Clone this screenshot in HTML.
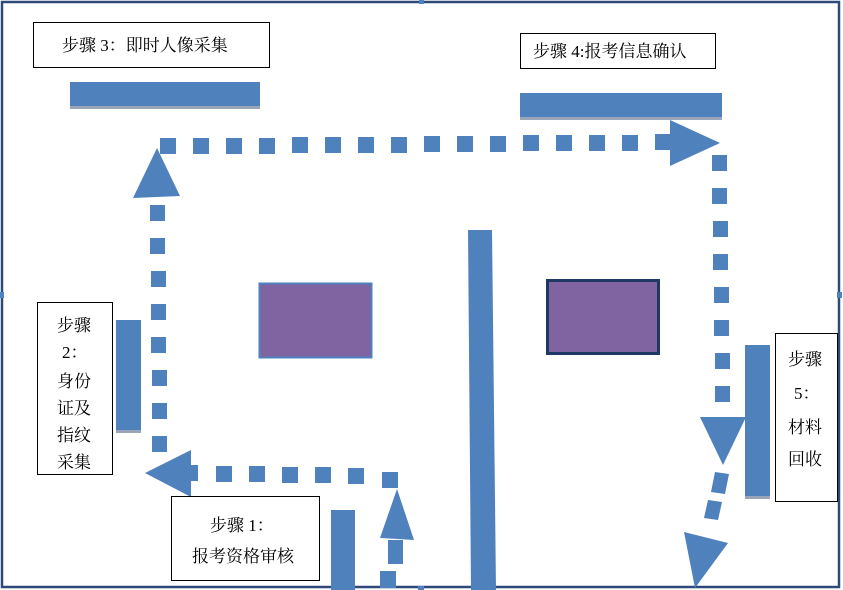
<!DOCTYPE html>
<html><head><meta charset="utf-8"><style>
html,body{margin:0;padding:0;background:#fff;}
svg{display:block;}
text{font-family:"Liberation Serif","Noto Serif CJK SC","Noto Sans CJK SC",serif;font-size:17px;fill:#000;}
</style></head><body>
<svg width="843" height="590" viewBox="0 0 843 590" xmlns="http://www.w3.org/2000/svg">
<rect x="0" y="0" width="843" height="590" fill="#fff"/>
<rect x="2" y="2" width="837" height="585" fill="none" stroke="#2f4a7a" stroke-width="2.5"/>
<rect x="419" y="0" width="5" height="4" fill="#4f81bd"/>
<rect x="0" y="292" width="4" height="6" fill="#4f81bd"/>
<rect x="837" y="292" width="5" height="6" fill="#4f81bd"/>
<rect x="418" y="586" width="6" height="4" fill="#4f81bd"/>

<!-- step 3 -->
<rect x="33.5" y="22.5" width="236" height="45" fill="#fff" stroke="#000"/>
<text x="62" y="51">步骤 3：即时人像采集</text>
<rect x="70" y="82" width="190" height="24" fill="#4f81bd"/>
<rect x="70" y="106" width="190" height="3" fill="#9aa6b8"/>
<!-- step 4 -->
<rect x="520.5" y="33.5" width="195" height="35" fill="#fff" stroke="#000"/>
<text x="533" y="57">步骤 4:报考信息确认</text>
<rect x="520" y="93" width="202" height="24" fill="#4f81bd"/>
<rect x="520" y="117" width="202" height="3" fill="#9aa6b8"/>

<g fill="#4f81bd">
<!-- top dashes -->
<rect x="160" y="138" width="16" height="16"/>
<rect x="193" y="138" width="16" height="16"/>
<rect x="226" y="138" width="16" height="16"/>
<rect x="259" y="138" width="16" height="16"/>
<rect x="292" y="137" width="16" height="16"/>
<rect x="325" y="137" width="16" height="16"/>
<rect x="358" y="137" width="16" height="16"/>
<rect x="391" y="137" width="16" height="16"/>
<rect x="424" y="136" width="16" height="16"/>
<rect x="457" y="136" width="16" height="16"/>
<rect x="490" y="136" width="16" height="16"/>
<rect x="523" y="135" width="16" height="16"/>
<rect x="556" y="135" width="16" height="16"/>
<rect x="589" y="135" width="16" height="16"/>
<rect x="622" y="135" width="16" height="16"/>
<rect x="655" y="134" width="16" height="16"/>
<polygon points="670,120 720,143 670,166"/>
<!-- left up arrow -->
<polygon points="157,148 180,196 133,198"/>
<rect x="150" y="205" width="15" height="16"/>
<rect x="150" y="238" width="15" height="16"/>
<rect x="151" y="271" width="15" height="16"/>
<rect x="151" y="304" width="15" height="16"/>
<rect x="151" y="337" width="15" height="16"/>
<rect x="152" y="370" width="15" height="16"/>
<rect x="152" y="403" width="15" height="16"/>
<rect x="152" y="436" width="15" height="16"/>
<!-- bottom left arrow -->
<polygon points="145,473 191,450 191,497"/>
<rect x="190" y="465" width="8" height="16"/>
<rect x="216" y="466" width="16" height="16"/>
<rect x="249" y="466" width="16" height="16"/>
<rect x="282" y="467" width="16" height="16"/>
<rect x="315" y="467" width="16" height="16"/>
<rect x="348" y="468" width="16" height="16"/>
<rect x="382" y="472" width="16" height="16"/>
<!-- up arrow bottom -->
<polygon points="397,489 414,540 380,538"/>
<rect x="388" y="540" width="15" height="24"/>
<rect x="380" y="571" width="16" height="17"/>
<!-- right vertical dashes -->
<rect x="712" y="155" width="15" height="16"/>
<rect x="712" y="188" width="15" height="16"/>
<rect x="713" y="221" width="15" height="16"/>
<rect x="713" y="254" width="15" height="16"/>
<rect x="714" y="287" width="15" height="16"/>
<rect x="714" y="320" width="15" height="16"/>
<rect x="715" y="353" width="15" height="16"/>
<rect x="715" y="386" width="15" height="16"/>
<polygon points="700,417 746,417 723,465"/>
<polygon points="715,472 729,474 725,494 711,492"/>
<polygon points="708,500 722,502 718,520 704,518"/>
<polygon points="684,532 728,543 695,588"/>
</g>

<!-- step 2 -->
<rect x="37.5" y="302.5" width="75" height="172" fill="#fff" stroke="#000"/>
<text x="57" y="331">步骤</text>
<text x="62" y="358">2：</text>
<text x="57" y="387">身份</text>
<text x="57" y="414">证及</text>
<text x="57" y="441">指纹</text>
<text x="57" y="468">采集</text>
<rect x="116" y="320" width="25" height="110" fill="#4f81bd"/>
<rect x="116" y="430" width="25" height="3" fill="#9aa6b8"/>

<!-- step 1 -->
<rect x="171.5" y="496.5" width="148" height="84" fill="#fff" stroke="#000"/>
<text x="210" y="531">步骤 1：</text>
<text x="192" y="562">报考资格审核</text>
<rect x="331" y="510" width="24" height="80" fill="#4f81bd"/>

<!-- central bar -->
<polygon points="468,230 492,230 496,590 471,590" fill="#4f81bd"/>
<!-- purple boxes -->
<rect x="259.5" y="283.5" width="112" height="74" fill="#8064a2" stroke="#4f81bd" stroke-width="2"/>
<rect x="547.5" y="280.5" width="111" height="73" fill="#8064a2" stroke="#1f3864" stroke-width="3"/>

<!-- step 5 -->
<rect x="775.5" y="333.5" width="62" height="168" fill="#fff" stroke="#000"/>
<text x="788" y="365">步骤</text>
<text x="794" y="399">5：</text>
<text x="788" y="433">材料</text>
<text x="788" y="465">回收</text>
<rect x="745" y="345" width="25" height="151" fill="#4f81bd"/>
<rect x="745" y="496" width="25" height="3" fill="#9aa6b8"/>
</svg>
</body></html>
